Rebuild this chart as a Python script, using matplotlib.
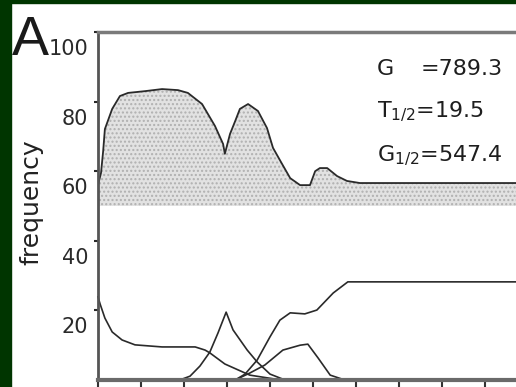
import matplotlib
matplotlib.use("Agg")
import matplotlib.pyplot as plt
from matplotlib.patches import Rectangle
from matplotlib.transforms import ScaledTranslation

plt.rcParams['font.family'] = ['DejaVu Sans']
plt.rcParams['mathtext.fontset'] = 'dejavusans'
plt.rcParams['hatch.color'] = '#a0a0a0'

# top envelope (shaded)
top_x = [0.0, 0.07, 0.12, 0.16, 0.33, 0.51, 0.7, 1.09, 1.49, 1.86, 2.09, 2.42, 2.72, 2.91,
         2.95, 3.07, 3.19, 3.3, 3.49, 3.72, 3.93, 4.07, 4.28, 4.47, 4.7, 4.93, 5.05, 5.16,
         5.33, 5.56, 5.79, 6.09, 7.0, 8.0, 9.0, 10.0]
top_y = [56.0, 59.5, 65.8, 72.1, 77.9, 81.6, 82.5, 83.0, 83.6, 83.3, 82.5, 79.3, 73.0, 67.8,
         65.0, 70.7, 74.4, 77.9, 79.3, 77.3, 72.4, 66.7, 62.1, 58.0, 56.0, 56.0, 60.0, 60.9,
         60.9, 58.6, 57.2, 56.6, 56.6, 56.6, 56.6, 56.6]
shade_floor = 50.0

# decaying component
c1_x = [0.0, 0.05, 0.16, 0.33, 0.56, 0.86, 1.49, 2.26, 2.49, 2.6, 2.95, 3.53, 4.1, 4.7]
c1_y = [23.9, 21.8, 17.8, 13.8, 11.5, 10.1, 9.5, 9.5, 8.6, 7.8, 4.6, 1.4, 0.3, 0.0]

# sharp transient peak
c2_x = [1.9, 2.14, 2.37, 2.6, 2.79, 2.98, 3.14, 3.47, 3.7, 4.0, 4.35]
c2_y = [0.0, 1.1, 4.0, 8.0, 13.5, 19.5, 14.4, 8.6, 5.2, 1.7, 0.0]

# rising component, plateau
c3_x = [3.19, 3.42, 3.7, 4.0, 4.23, 4.47, 4.81, 5.09, 5.47, 5.81, 7.0, 10.0]
c3_y = [0.0, 1.7, 5.7, 12.4, 17.2, 19.3, 19.0, 20.1, 25.0, 28.2, 28.2, 28.2]

# small late peak
c4_x = [3.19, 3.53, 3.88, 4.3, 4.7, 4.88, 5.12, 5.4, 5.74]
c4_y = [0.0, 2.0, 4.3, 8.6, 10.0, 10.3, 6.3, 1.4, 0.0]

y_ticks = [20, 40, 60, 80, 100]
x_ticks = list(range(0, 11))

fig = plt.figure(figsize=(5.16, 3.87), dpi=100)
fig.patch.set_facecolor('white')
green = '#003500'
fig.patches.append(Rectangle((0, 0), 11 / 516, 1, transform=fig.transFigure,
                             color=green, zorder=0))
fig.patches.append(Rectangle((0, 1 - 3 / 387), 1, 3 / 387, transform=fig.transFigure,
                             color=green, zorder=0))

ax = fig.add_axes([98 / 516, 7 / 387, 430 / 516, 348 / 387])
line_c = '#2a2a2a'
ax.fill_between(top_x, shade_floor, top_y, facecolor='#e2e2e2', edgecolor='#b0b0b0',
                hatch='....', linewidth=0)
ax.plot(top_x, top_y, color=line_c, lw=1.3)
for xs, ys in [(c1_x, c1_y), (c2_x, c2_y), (c3_x, c3_y), (c4_x, c4_y)]:
    ax.plot(xs, ys, color=line_c, lw=1.2, clip_on=False)

ax.set_xlim(0, 10)
ax.set_ylim(0, 100)
ax.set_yticks(y_ticks)
ax.set_xticks(x_ticks)
ax.set_xticklabels([])
ax.tick_params(axis='y', length=3, width=1.5, pad=4, labelsize=15, colors='#2a2a2a')
ax.tick_params(axis='x', length=5, width=1.5, direction='out', colors='#333333')
off = ScaledTranslation(0, -0.15, fig.dpi_scale_trans)
for lab in ax.get_yticklabels():
    lab.set_transform(lab.get_transform() + off)

ax.spines['right'].set_visible(False)
ax.spines['left'].set_color('#555555')
ax.spines['left'].set_linewidth(2)
ax.spines['top'].set_color('#7a7a7a')
ax.spines['top'].set_linewidth(2.5)
ax.spines['bottom'].set_color('#6a6a6a')
ax.spines['bottom'].set_linewidth(3)

fig.text(31 / 516, 1 - 202 / 387, 'frequency', rotation=90, ha='center', va='center',
         fontsize=18, color='#222222')
fig.text(12 / 516, 1 - 55 / 387, 'A', ha='left', va='baseline', fontsize=40,
         family='Liberation Sans', color='#1a1a1a')

txt_kw = dict(fontsize=16, color='#1e1e1e', va='baseline', ha='left', transform=fig.transFigure)
fig.text(377 / 516, 1 - 75 / 387, 'G', **txt_kw)
fig.text(421 / 516, 1 - 75 / 387, '=789.3', **txt_kw)
fig.text(377 / 516, 1 - 117 / 387, r'T$_{1/2}$=19.5', **txt_kw)
fig.text(377 / 516, 1 - 161 / 387, r'G$_{1/2}$=547.4', **txt_kw)

fig.savefig('out.png', dpi=100)
